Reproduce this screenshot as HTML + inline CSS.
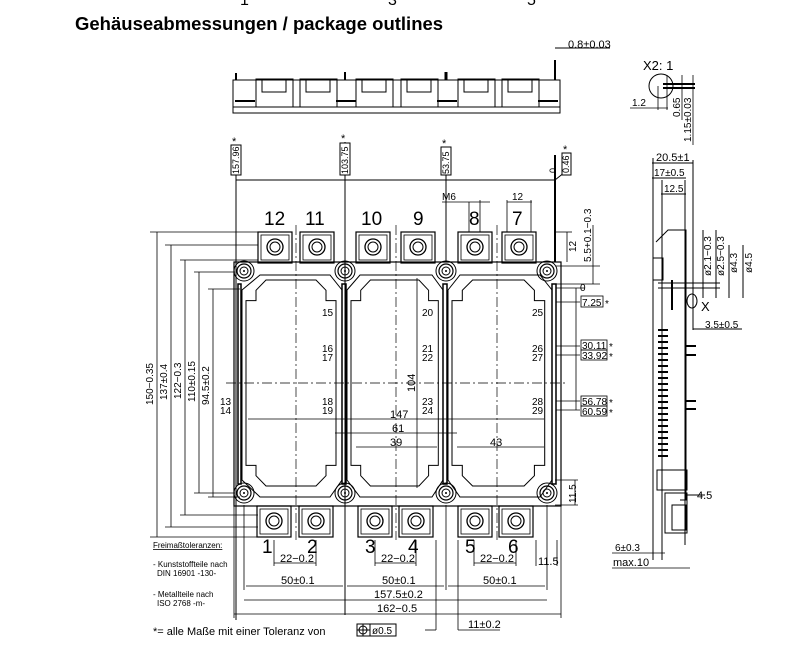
<!DOCTYPE html>
<html><head><meta charset="utf-8"><style>
html,body{margin:0;padding:0;background:#fff;width:798px;height:656px;overflow:hidden}
svg{display:block}
text{font-family:"Liberation Sans",sans-serif;fill:#000}
</style></head><body>
<svg width="798" height="656" viewBox="0 0 798 656" xmlns="http://www.w3.org/2000/svg">
<defs>
<g id="term">
<rect x="-17" y="-15" width="34" height="31" fill="none" stroke="#000" stroke-width="1.2"/>
<rect x="-14" y="-12" width="28" height="25" fill="none" stroke="#000" stroke-width="0.8"/>
<circle r="8" fill="none" stroke="#000" stroke-width="1.3"/>
<circle r="5" fill="none" stroke="#000" stroke-width="1"/>
</g>
<g id="hole">
<circle r="10" fill="none" stroke="#000" stroke-width="1"/>
<circle r="7" fill="none" stroke="#000" stroke-width="1.2"/>
<circle r="4" fill="none" stroke="#000" stroke-width="1"/>
<circle r="1" fill="#000"/>
</g>
<g id="win">
<path d="M0 20 L10 20 L10 10 L20 0 L70 0 L80 10 L80 20 L90 20 L90 180 L80 180 L80 190 L70 200 L20 200 L10 190 L10 180 L0 180 Z" fill="none" stroke="#000" stroke-width="1"/>
</g>
</defs>
<g font-size="16" fill="#444"><text x="240" y="5">1</text><text x="388" y="5">3</text><text x="527" y="5">5</text></g>
<text x="75" y="30" font-size="18.5" font-weight="bold">Gehäuseabmessungen / package outlines</text>

<!-- top strip view -->
<g stroke="#000" fill="none" stroke-width="1">
<rect x="233" y="80" width="327" height="33"/>
<line x1="233" y1="107" x2="560" y2="107"/>
<rect x="256" y="79" width="37" height="28"/><rect x="300" y="79" width="37" height="28"/>
<rect x="356" y="79" width="37" height="28"/><rect x="401" y="79" width="37" height="28"/>
<rect x="458" y="79" width="37" height="28"/><rect x="502" y="79" width="37" height="28"/>
<rect x="262" y="80" width="24" height="12"/><rect x="306" y="80" width="24" height="12"/>
<rect x="362" y="80" width="24" height="12"/><rect x="407" y="80" width="24" height="12"/>
<rect x="464" y="80" width="24" height="12"/><rect x="508" y="80" width="24" height="12"/>
<line x1="235" y1="101" x2="255" y2="101" stroke-width="2"/><line x1="336" y1="101" x2="356" y2="101" stroke-width="2"/>
<line x1="437" y1="101" x2="457" y2="101" stroke-width="2"/><line x1="538" y1="101" x2="558" y2="101" stroke-width="2"/>
<line x1="236" y1="73" x2="236" y2="80" stroke-width="2"/><line x1="345" y1="72" x2="345" y2="80" stroke-width="2"/>
<line x1="446" y1="72" x2="446" y2="80" stroke-width="3"/><line x1="555" y1="60" x2="555" y2="80" stroke-width="2"/>
<line x1="555" y1="48" x2="610" y2="48"/>
</g>
<text x="568" y="48" font-size="11">0.8±0.03</text>

<!-- reference lines -->
<g stroke="#000" stroke-width="1" fill="none">
<line x1="236" y1="150" x2="236" y2="620"/>
<line x1="345" y1="142" x2="345" y2="615"/>
<line x1="446" y1="148" x2="446" y2="262"/>
<line x1="555" y1="155" x2="555" y2="262" stroke-width="2"/>
<line x1="236" y1="180" x2="555" y2="180"/>
<line x1="555" y1="180" x2="570" y2="168"/>
<rect x="231" y="145" width="10" height="30" fill="#fff"/>
<rect x="340" y="143" width="10" height="32" fill="#fff"/>
<rect x="441" y="147" width="10" height="28" fill="#fff"/>
<rect x="562" y="153" width="9" height="22" fill="#fff"/>
</g>
<g font-size="9">
<text transform="translate(239,174) rotate(-90)">157.96</text>
<text transform="translate(348,174) rotate(-90)">103.75</text>
<text transform="translate(449,174) rotate(-90)">53.75</text>
<text transform="translate(569,173) rotate(-90)">0.46</text>
<text transform="translate(556,173) rotate(-90)">0</text>
<text x="232" y="145" font-size="11">*</text><text x="341" y="142" font-size="11">*</text>
<text x="442" y="147" font-size="11">*</text><text x="563" y="153" font-size="11">*</text>
</g>
<text x="442" y="200" font-size="10">M6</text>
<text x="512" y="200" font-size="10">12</text>
<g stroke="#000" stroke-width="0.8"><line x1="442" y1="202" x2="490" y2="202"/><line x1="507" y1="202" x2="532" y2="202"/>
<line x1="469" y1="202" x2="469" y2="232"/><line x1="480" y1="200" x2="480" y2="232"/><line x1="507" y1="200" x2="507" y2="232"/><line x1="531" y1="200" x2="531" y2="232"/></g>

<!-- terminal labels -->
<g font-size="19" fill="#444">
<text x="264" y="225">12</text><text x="305" y="225">11</text><text x="361" y="225">10</text>
<text x="413" y="225">9</text><text x="469" y="225">8</text><text x="512" y="225">7</text>
<text x="262" y="553">1</text><text x="307" y="553">2</text><text x="365" y="553">3</text>
<text x="408" y="553">4</text><text x="465" y="553">5</text><text x="508" y="553">6</text>
</g>

<!-- body -->
<g stroke="#000" fill="none">
<rect x="234" y="262" width="327" height="244" stroke-width="1.2"/>
<rect x="238" y="284" width="3" height="200" stroke-width="1.5"/>
<rect x="342" y="284" width="4" height="200" stroke-width="1.5"/>
<rect x="443" y="284" width="4" height="200" stroke-width="1.5"/>
<rect x="552" y="284" width="4" height="200" stroke-width="1.5"/>
<path d="M242 290 L260 275 L330 275 L342 290 L342 480 L330 497 L260 497 L242 480 Z" stroke-width="1"/>
<path d="M347 290 L360 275 L432 275 L443 290 L443 480 L432 497 L360 497 L347 480 Z" stroke-width="1"/>
<path d="M448 290 L460 275 L540 275 L552 290 L552 480 L540 497 L460 497 L448 480 Z" stroke-width="1"/>
</g>
<use href="#win" transform="translate(246,280) scale(1.0,1.03)"/>
<use href="#win" transform="translate(351,280) scale(0.97,1.03)"/>
<use href="#win" transform="translate(452,280) scale(1.03,1.03)"/>
<use href="#term" x="275" y="247"/><use href="#term" x="317" y="247"/><use href="#term" x="373" y="247"/>
<use href="#term" x="418" y="247"/><use href="#term" x="475" y="247"/><use href="#term" x="519" y="247"/>
<use href="#term" x="274" y="521"/><use href="#term" x="316" y="521"/><use href="#term" x="375" y="521"/>
<use href="#term" x="416" y="521"/><use href="#term" x="475" y="521"/><use href="#term" x="516" y="521"/>
<use href="#hole" x="244" y="271"/><use href="#hole" x="345" y="271"/><use href="#hole" x="446" y="271"/><use href="#hole" x="547" y="271"/>
<use href="#hole" x="244" y="493"/><use href="#hole" x="345" y="493"/><use href="#hole" x="446" y="493"/><use href="#hole" x="547" y="493"/>

<!-- center lines -->
<g stroke="#000" stroke-width="0.7" stroke-dasharray="10,3,2,3">
<line x1="226" y1="383" x2="568" y2="383"/>
<line x1="296" y1="225" x2="296" y2="540"/><line x1="396" y1="225" x2="396" y2="540"/><line x1="497" y1="225" x2="497" y2="540"/>
</g>
<!-- internal dims -->
<g stroke="#000" stroke-width="0.8">
<line x1="248" y1="419" x2="544" y2="419"/>
<line x1="335" y1="433" x2="457" y2="433"/>
<line x1="356" y1="447" x2="437" y2="447"/>
<line x1="457" y1="447" x2="544" y2="447"/>
<line x1="417" y1="278" x2="417" y2="488"/>
</g>
<g font-size="11">
<text x="390" y="418">147</text><text x="392" y="432">61</text><text x="390" y="446">39</text><text x="490" y="446">43</text>
<text transform="translate(415,392) rotate(-90)">104</text>
</g>
<g font-size="10">
<text x="322" y="316">15</text><text x="322" y="352">16</text><text x="322" y="361">17</text><text x="322" y="405">18</text><text x="322" y="414">19</text>
<text x="422" y="316">20</text><text x="422" y="352">21</text><text x="422" y="361">22</text><text x="422" y="405">23</text><text x="422" y="414">24</text>
<text x="532" y="316">25</text><text x="532" y="352">26</text><text x="532" y="361">27</text><text x="532" y="405">28</text><text x="532" y="414">29</text>
<text x="220" y="405">13</text><text x="220" y="414">14</text>
</g>

<!-- left dims -->
<g stroke="#000" stroke-width="0.8">
<line x1="157" y1="232" x2="157" y2="537"/><line x1="150" y1="232" x2="260" y2="232"/><line x1="150" y1="537" x2="260" y2="537"/>
<line x1="171" y1="245" x2="171" y2="527"/><line x1="165" y1="245" x2="258" y2="245"/><line x1="165" y1="527" x2="258" y2="527"/>
<line x1="185" y1="260" x2="185" y2="515"/><line x1="180" y1="260" x2="258" y2="260"/><line x1="180" y1="515" x2="258" y2="515"/>
<line x1="199" y1="272" x2="199" y2="493"/><line x1="194" y1="272" x2="235" y2="272"/><line x1="194" y1="493" x2="235" y2="493"/>
<line x1="213" y1="289" x2="213" y2="497"/><line x1="208" y1="289" x2="240" y2="289"/><line x1="208" y1="497" x2="240" y2="497"/>
</g>
<g font-size="10">
<text transform="translate(153,405) rotate(-90)">150−0.35</text>
<text transform="translate(167,400) rotate(-90)">137±0.4</text>
<text transform="translate(181,399) rotate(-90)">122−0.3</text>
<text transform="translate(195,402) rotate(-90)">110±0.15</text>
<text transform="translate(209,405) rotate(-90)">94.5±0.2</text>
</g>

<!-- right dims -->
<g stroke="#000" stroke-width="0.8">
<line x1="556" y1="288" x2="585" y2="288"/><line x1="576" y1="288" x2="576" y2="410"/>
<line x1="556" y1="302" x2="580" y2="302"/><line x1="556" y1="346" x2="580" y2="346"/><line x1="556" y1="355" x2="580" y2="355"/>
<line x1="556" y1="401" x2="580" y2="401"/><line x1="556" y1="410" x2="580" y2="410"/>
<line x1="556" y1="266" x2="600" y2="266"/><line x1="556" y1="284" x2="600" y2="284"/><line x1="593" y1="225" x2="593" y2="284"/>
<line x1="556" y1="232" x2="572" y2="232"/><line x1="567" y1="232" x2="567" y2="262"/>
<line x1="555" y1="480" x2="578" y2="480"/><line x1="555" y1="505" x2="578" y2="505"/><line x1="575" y1="480" x2="575" y2="505"/>
</g>
<g font-size="10">
<rect x="581" y="296" width="22" height="11" fill="none" stroke="#000" stroke-width="0.8"/><text x="582" y="306">7.25</text><text x="605" y="307">*</text>
<rect x="581" y="340" width="26" height="10" fill="none" stroke="#000" stroke-width="0.8"/><text x="582" y="349">30.11</text><text x="609" y="350">*</text>
<rect x="581" y="350" width="26" height="10" fill="none" stroke="#000" stroke-width="0.8"/><text x="582" y="359">33.92</text><text x="609" y="360">*</text>
<rect x="581" y="396" width="26" height="10" fill="none" stroke="#000" stroke-width="0.8"/><text x="582" y="405">56.78</text><text x="609" y="406">*</text>
<rect x="581" y="406" width="26" height="10" fill="none" stroke="#000" stroke-width="0.8"/><text x="582" y="415">60.59</text><text x="609" y="416">*</text>
<text x="580" y="291">0</text>
<text transform="translate(576,252) rotate(-90)">12</text>
<text transform="translate(591,262) rotate(-90)">5.5+0.1−0.3</text>
<text transform="translate(576,503) rotate(-90)">11.5</text>
</g>

<!-- bottom dims -->
<g stroke="#000" stroke-width="0.8">
<line x1="244" y1="505" x2="244" y2="590"/><line x1="345" y1="505" x2="345" y2="590"/><line x1="446" y1="505" x2="446" y2="590"/><line x1="547" y1="505" x2="547" y2="590"/>
<line x1="274" y1="540" x2="274" y2="566"/><line x1="316" y1="540" x2="316" y2="566"/><line x1="375" y1="540" x2="375" y2="566"/>
<line x1="416" y1="540" x2="416" y2="566"/><line x1="474" y1="540" x2="474" y2="566"/><line x1="516" y1="540" x2="516" y2="566"/>
<line x1="274" y1="563" x2="316" y2="563"/><line x1="375" y1="563" x2="416" y2="563"/><line x1="474" y1="563" x2="516" y2="563"/>
<line x1="244" y1="600" x2="547" y2="600"/>
<line x1="246" y1="586" x2="343" y2="586"/><line x1="347" y1="586" x2="444" y2="586"/><line x1="448" y1="586" x2="545" y2="586"/>
<line x1="234" y1="506" x2="234" y2="618"/><line x1="561" y1="506" x2="561" y2="618"/>
<line x1="234" y1="614" x2="561" y2="614"/>
<line x1="536" y1="540" x2="536" y2="566"/><line x1="557" y1="540" x2="557" y2="566"/>
<line x1="436" y1="540" x2="436" y2="630"/><line x1="458" y1="540" x2="458" y2="630"/>
<line x1="425" y1="630" x2="436" y2="630"/><line x1="458" y1="630" x2="500" y2="630"/>
</g>
<g font-size="11">
<text x="280" y="562">22−0.2</text><text x="381" y="562">22−0.2</text><text x="480" y="562">22−0.2</text>
<text x="281" y="584">50±0.1</text><text x="382" y="584">50±0.1</text><text x="483" y="584">50±0.1</text>
<text x="374" y="598">157.5±0.2</text><text x="377" y="612">162−0.5</text>
<text x="538" y="565">11.5</text><text x="468" y="628">11±0.2</text>
</g>
<g font-size="8">
<text x="153" y="548" text-decoration="underline">Freimaßtoleranzen:</text>
<text x="153" y="567">- Kunststoffteile nach</text><text x="157" y="576">DIN 16901 -130-</text>
<text x="153" y="597">- Metallteile nach</text><text x="157" y="606">ISO 2768 -m-</text>
</g>
<text x="153" y="635" font-size="11">*= alle Maße mit einer Toleranz von</text>
<rect x="357" y="624" width="13" height="12" fill="none" stroke="#000"/><rect x="370" y="624" width="26" height="12" fill="none" stroke="#000"/>
<circle cx="363" cy="630" r="4" fill="none" stroke="#000"/><line x1="357" y1="630" x2="370" y2="630" stroke="#000"/><line x1="363" y1="624" x2="363" y2="636" stroke="#000"/>
<text x="372" y="634" font-size="10">ø0.5</text>

<!-- X2:1 detail -->
<text x="643" y="70" font-size="13">X2: 1</text>
<circle cx="661" cy="86" r="12" fill="none" stroke="#000"/>
<g stroke="#000" stroke-width="0.8">
<line x1="663" y1="84" x2="695" y2="84" stroke-width="2"/><line x1="663" y1="88" x2="695" y2="88" stroke-width="2"/>
<line x1="667" y1="75" x2="667" y2="110"/><line x1="658" y1="86" x2="658" y2="110"/>
<line x1="630" y1="108" x2="668" y2="108"/>
<line x1="682" y1="75" x2="682" y2="120"/><line x1="693" y1="75" x2="693" y2="145"/>
</g>
<g font-size="10"><text x="632" y="106">1.2</text>
<text transform="translate(680,117) rotate(-90)">0.65</text>
<text transform="translate(691,142) rotate(-90)">1.15±0.03</text></g>

<!-- side view -->
<g stroke="#000" fill="none" stroke-width="1">
<line x1="652" y1="163" x2="693" y2="163"/><line x1="652" y1="178" x2="686" y2="178"/><line x1="661" y1="194" x2="686" y2="194"/>
<line x1="653" y1="158" x2="653" y2="560"/><line x1="662" y1="180" x2="662" y2="560"/><line x1="685" y1="180" x2="685" y2="545"/><line x1="693" y1="160" x2="693" y2="330"/>
<rect x="653" y="258" width="10" height="22"/>
<path d="M656 242 L668 230 L686 230 L686 500 L680 500"/>
<line x1="658" y1="283" x2="720" y2="283"/><line x1="658" y1="288" x2="720" y2="288"/>
<line x1="703" y1="230" x2="703" y2="298"/><line x1="716" y1="230" x2="716" y2="298"/><line x1="729" y1="245" x2="729" y2="298"/><line x1="743" y1="245" x2="743" y2="298"/>
<line x1="693" y1="329" x2="742" y2="329"/>
<ellipse cx="692" cy="301" rx="5" ry="7"/>
<rect x="657" y="470" width="30" height="20"/>
<rect x="665" y="493" width="22" height="40"/>
<rect x="672" y="505" width="14" height="25"/>
<line x1="686" y1="495" x2="705" y2="495"/>
</g>
<g stroke="#000" stroke-width="2">
<line x1="658" y1="330" x2="668" y2="330"/><line x1="658" y1="336" x2="668" y2="336"/><line x1="658" y1="342" x2="668" y2="342"/><line x1="658" y1="348" x2="668" y2="348"/>
<line x1="658" y1="354" x2="668" y2="354"/><line x1="658" y1="360" x2="668" y2="360"/><line x1="658" y1="366" x2="668" y2="366"/><line x1="658" y1="372" x2="668" y2="372"/>
<line x1="658" y1="378" x2="668" y2="378"/><line x1="658" y1="384" x2="668" y2="384"/><line x1="658" y1="390" x2="668" y2="390"/><line x1="658" y1="396" x2="668" y2="396"/>
<line x1="658" y1="402" x2="668" y2="402"/><line x1="658" y1="408" x2="668" y2="408"/><line x1="658" y1="414" x2="668" y2="414"/><line x1="658" y1="420" x2="668" y2="420"/>
<line x1="658" y1="426" x2="668" y2="426"/><line x1="658" y1="432" x2="668" y2="432"/><line x1="658" y1="438" x2="668" y2="438"/><line x1="658" y1="444" x2="668" y2="444"/>
<line x1="658" y1="450" x2="668" y2="450"/><line x1="658" y1="456" x2="668" y2="456"/>
<line x1="686" y1="346" x2="696" y2="346"/><line x1="686" y1="355" x2="696" y2="355"/><line x1="686" y1="401" x2="696" y2="401"/><line x1="686" y1="409" x2="696" y2="409"/>
<line x1="672" y1="280" x2="672" y2="310"/>
</g>
<g font-size="10">
<text x="656" y="161" font-size="11">20.5±1</text><text x="654" y="176">17±0.5</text><text x="664" y="192">12.5</text>
<text transform="translate(711,276) rotate(-90)">ø2.1−0.3</text>
<text transform="translate(724,276) rotate(-90)">ø2.5−0.3</text>
<text transform="translate(737,273) rotate(-90)">ø4.3</text>
<text transform="translate(752,273) rotate(-90)">ø4.5</text>
<text x="701" y="311" font-size="13">X</text>
<text x="705" y="328">3.5±0.5</text>
<text x="697" y="499" font-size="11">4.5</text>
<text x="615" y="551">6±0.3</text><text x="613" y="566" font-size="11">max.10</text>
</g>
<g stroke="#000" stroke-width="0.8"><line x1="612" y1="553" x2="665" y2="553"/><line x1="612" y1="568" x2="690" y2="568"/></g>
</svg>
</body></html>
